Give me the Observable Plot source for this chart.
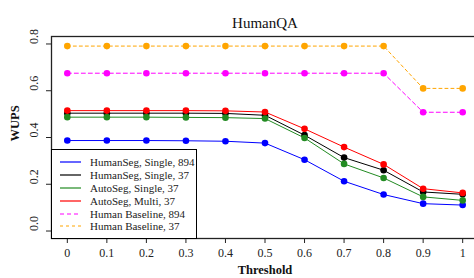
<!DOCTYPE html>
<html>
<head>
<meta charset="utf-8">
<script src="https://cdn.jsdelivr.net/npm/d3@7"></script>
<script src="https://cdn.jsdelivr.net/npm/@observablehq/plot@0.6"></script>
<style>
  html, body { margin: 0; padding: 0; background: #fff; overflow: hidden; }
  #wrap { position: relative; width: 474px; height: 278px; font-family: "Liberation Serif", "DejaVu Serif", serif; }
  #legend { position: absolute; left: 51px; top: 149px; width: 146px; height: 90px; box-sizing: border-box;
            border: 1px solid #000; background: #fff; padding-top: 6px; }
  .row { display: flex; align-items: center; height: 12.8px; font-size: 11px; color: #222; white-space: nowrap; }
  .row svg { margin-left: 8px; margin-right: 9px; flex: none; }
</style>
</head>
<body>
<div id="wrap"></div>
<script>
// ---- data ----
const thresholds = [0, 0.1, 0.2, 0.3, 0.4, 0.5, 0.6, 0.7, 0.8, 0.9, 1];
const xTickLabels = ["0", "0.1", "0.2", "0.3", "0.4", "0.5", "0.6", "0.7", "0.8", "0.9", "1"];
const yTicks = [0, 0.2, 0.4, 0.6, 0.8];
const yTickLabels = ["0.0", "0.2", "0.4", "0.6", "0.8"];

const seriesNames = [
  "HumanSeg, Single, 894",
  "HumanSeg, Single, 37",
  "AutoSeg, Single, 37",
  "AutoSeg, Multi, 37",
  "Human Baseline, 894",
  "Human Baseline, 37"
];
const humanSegSingle894 = [0.387, 0.387, 0.387, 0.386, 0.384, 0.376, 0.305, 0.213, 0.156, 0.117, 0.111];
const humanSegSingle37  = [0.504, 0.504, 0.504, 0.504, 0.503, 0.495, 0.410, 0.314, 0.260, 0.167, 0.157];
const autoSegSingle37   = [0.487, 0.487, 0.487, 0.486, 0.485, 0.481, 0.398, 0.287, 0.227, 0.146, 0.131];
const autoSegMulti37    = [0.515, 0.515, 0.515, 0.515, 0.514, 0.509, 0.437, 0.359, 0.285, 0.181, 0.163];
const humanBaseline894  = [0.675, 0.675, 0.675, 0.675, 0.675, 0.675, 0.675, 0.675, 0.675, 0.508, 0.508];
const humanBaseline37   = [0.791, 0.791, 0.791, 0.791, 0.791, 0.791, 0.791, 0.791, 0.791, 0.610, 0.610];

const seriesValues = [humanSegSingle894, humanSegSingle37, autoSegSingle37, autoSegMulti37, humanBaseline894, humanBaseline37];
const seriesColors = ["#0000ff", "#000000", "#228b22", "#ff0000", "#ff00ff", "#ffa500"];
const seriesDash = [null, null, null, null, "4,3", "3,3"];

const titleText = "HumanQA";
const xLabel = "Threshold";
const yLabel = "WUPS";

// ---- build ----
const font = "Liberation Serif";
const series = seriesNames.map((name, k) => ({
  name, color: seriesColors[k], dash: seriesDash[k],
  data: thresholds.map((t, i) => ({t, v: seriesValues[k][i]}))
}));

const marks = [];
const order = [4, 5, 0, 1, 2, 3];
for (const k of order) {
  const s = series[k];
  marks.push(Plot.line(s.data, {x: "t", y: "v", stroke: s.color, strokeWidth: 1, strokeDasharray: s.dash || undefined}));
  marks.push(Plot.dot(s.data, {x: "t", y: "v", fill: s.color, r: 3.3, stroke: "none"}));
}

const chart = Plot.plot({
  width: 474,
  height: 278,
  marginLeft: 51,
  marginRight: -4,
  marginTop: 36,
  marginBottom: 40,
  style: {fontFamily: font, background: "#fff", color: "#222"},
  x: {domain: [-0.04, 1.04]},
  y: {domain: [-0.032, 0.832]},
  marks: [
    ...marks,
    Plot.frame({stroke: "#222", strokeWidth: 1.3}),
    Plot.axisX({ticks: thresholds, tickFormat: d => xTickLabels[thresholds.indexOf(d)], tickSize: 5, tickPadding: 5, fontSize: 12, label: null, stroke: "#222"}),
    Plot.axisY({ticks: yTicks, tickFormat: () => "", tickSize: 5, label: null, stroke: "#222"}),
    Plot.text(yTicks, {y: d => d, frameAnchor: "left", text: d => yTickLabels[yTicks.indexOf(d)], rotate: -90, dx: -17, fontSize: 12, fill: "#222"}),
    Plot.text([titleText], {frameAnchor: "top", dy: -19, fontSize: 15, fill: "#111"}),
    Plot.text([xLabel], {frameAnchor: "bottom", dy: 35, fontSize: 12.5, fontWeight: "bold", fill: "#111"}),
    Plot.text([yLabel], {frameAnchor: "left", rotate: -90, dx: -37, dy: 4, fontSize: 12.5, fontWeight: "bold", fill: "#111"})
  ]
});

const wrap = document.getElementById("wrap");
wrap.appendChild(chart);

// legend
const legend = document.createElement("div");
legend.id = "legend";
for (const s of series) {
  const row = document.createElement("div");
  row.className = "row";
  const dash = s.dash ? `stroke-dasharray="${s.dash}"` : "";
  row.innerHTML = `<svg width="21" height="4"><line x1="0" x2="21" y1="2" y2="2" stroke="${s.color}" stroke-width="1.2" ${dash}/></svg><span>${s.name}</span>`;
  legend.appendChild(row);
}
wrap.appendChild(legend);
</script>
</body>
</html>
